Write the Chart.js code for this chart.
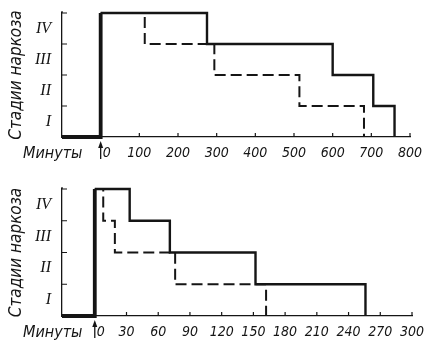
<!DOCTYPE html>
<html>
<head>
<meta charset="utf-8">
<script src="https://cdn.jsdelivr.net/npm/chart.js@4.4.1/dist/chart.umd.min.js"></script>
<style>
body{margin:0;background:#fff}
canvas{display:block}
</style>
</head>
<body>
<canvas id="upper" width="426" height="170"></canvas>
<canvas id="lower" width="426" height="170"></canvas>
<script>
// stages of narcosis, drawn between the grid levels
const stages = ['I', 'II', 'III', 'IV'];
const yTitle = 'Стадии наркоза';
const xTitle = 'Минуты';

// upper panel: time in minutes
const upperTicks = [0, 100, 200, 300, 400, 500, 600, 700, 800];
const upperSolidX = [-100, 0, 275, 600, 705, 760];
const upperSolidY = [0, 4, 3, 2, 1, 0];
const upperDashX = [-100, 0, 114, 294, 514, 681];
const upperDashY = [0, 4, 3, 2, 1, 0];

// lower panel
const lowerTicks = [0, 30, 60, 90, 120, 150, 180, 210, 240, 270, 300];
const lowerSolidX = [-31, 0, 33, 71, 152, 256];
const lowerSolidY = [0, 4, 3, 2, 1, 0];
const lowerDashX = [-31, 0, 8, 19, 76, 162];
const lowerDashY = [0, 4, 3, 2, 1, 0];

const INK = '#151515';
const SANS = "'DejaVu Sans Condensed', 'Liberation Sans Narrow', 'DejaVu Sans', sans-serif";

// inward tick marks, the arrow at zero and the "minutes" caption
const axisDecor = {
  id: 'axisDecor',
  afterDraw(chart) {
    const {ctx, chartArea, scales: {x, y}} = chart;
    const base = chartArea.bottom;
    const x0 = x.getPixelForValue(0);
    ctx.save();
    ctx.strokeStyle = INK;
    ctx.fillStyle = INK;
    ctx.lineWidth = 1.2;
    ctx.beginPath();
    x.ticks.forEach(t => {
      if (t.value === 0) return;
      const px = x.getPixelForValue(t.value);
      ctx.moveTo(px, base);
      ctx.lineTo(px, base - 4);
    });
    y.ticks.forEach(t => {
      if (t.value === 0) return;
      const py = y.getPixelForValue(t.value);
      ctx.moveTo(chartArea.left, py);
      ctx.lineTo(chartArea.left + 5, py);
    });
    // axis runs a little past the top level
    ctx.moveTo(chartArea.left, chartArea.top);
    ctx.lineTo(chartArea.left, chartArea.top - 2);
    ctx.stroke();

    ctx.lineWidth = 1.3;
    ctx.beginPath();
    ctx.moveTo(x0, base + 22);
    ctx.lineTo(x0, base + 8);
    ctx.stroke();
    ctx.beginPath();
    ctx.moveTo(x0 - 2.5, base + 11);
    ctx.lineTo(x0, base + 4);
    ctx.lineTo(x0 + 2.5, base + 11);
    ctx.closePath();
    ctx.fill();

    ctx.font = 'italic 16px ' + SANS;
    ctx.textAlign = 'left';
    ctx.textBaseline = 'middle';
    ctx.fillText(xTitle, chartArea.left - 39, base + 17);
    ctx.restore();
  }
};

const pts = (xs, ys) => xs.map((v, i) => ({x: v, y: ys[i]}));

function panel(id, o) {
  const levels = stages.map((s, i) => i).concat(stages.length);
  return new Chart(document.getElementById(id), {
    type: 'line',
    data: {
      datasets: [
        {
          data: pts(o.dashX, o.dashY),
          borderColor: INK,
          borderWidth: 2,
          borderDash: [11, 5],
          stepped: true,
          pointRadius: 0,
          clip: false,
          segment: {borderDash: c => c.p0.parsed.x < 0 ? [] : undefined}
        },
        {
          data: pts(o.solidX, o.solidY),
          borderColor: INK,
          borderWidth: 2.4,
          stepped: true,
          pointRadius: 0,
          clip: false,
          segment: {borderWidth: c => c.p0.parsed.x < 0 ? 3.8 : undefined}
        }
      ]
    },
    options: {
      responsive: false,
      animation: false,
      events: [],
      layout: {padding: {top: o.top, right: o.right, left: 0, bottom: 0}},
      plugins: {legend: {display: false}, tooltip: {enabled: false}},
      scales: {
        x: {
          type: 'linear',
          min: o.min,
          max: o.max,
          afterBuildTicks: s => { s.ticks = o.ticks.map(v => ({value: v})); },
          afterFit: s => { s.height = o.xHeight; s.paddingLeft = 0; s.paddingRight = 0; },
          grid: {drawOnChartArea: false, drawTicks: false},
          border: {color: INK, width: 1.3},
          ticks: {
            color: INK,
            font: {family: SANS, size: 14, style: 'italic'},
            padding: 8,
            maxRotation: 0,
            autoSkip: false,
            callback: v => v === 0 ? '   0' : String(v)
          }
        },
        y: {
          type: 'linear',
          min: 0,
          max: stages.length,
          afterBuildTicks: s => { s.ticks = levels.map(v => ({value: v})); },
          afterFit: s => { s.width = 62; s.paddingTop = 0; s.paddingBottom = 0; },
          grid: {drawOnChartArea: false, drawTicks: false},
          border: {color: INK, width: 1.3},
          ticks: {
            color: INK,
            font: {family: "'Liberation Serif', serif", size: 16, style: 'italic'},
            padding: 11,
            labelOffset: o.shift,
            callback: v => stages[v] || ''
          },
          title: {
            display: true,
            text: yTitle,
            color: INK,
            font: {family: SANS, size: 17, style: 'italic'},
            padding: {top: 6, bottom: 0}
          }
        }
      }
    },
    plugins: [axisDecor]
  });
}

panel('upper', {
  solidX: upperSolidX, solidY: upperSolidY, dashX: upperDashX, dashY: upperDashY,
  ticks: upperTicks, min: -100, max: 800,
  top: 13, right: 16, xHeight: 33, shift: -15.5
});

panel('lower', {
  solidX: lowerSolidX, solidY: lowerSolidY, dashX: lowerDashX, dashY: lowerDashY,
  ticks: lowerTicks, min: -31, max: 300,
  top: 19, right: 14, xHeight: 24, shift: -16
});
</script>
</body>
</html>
